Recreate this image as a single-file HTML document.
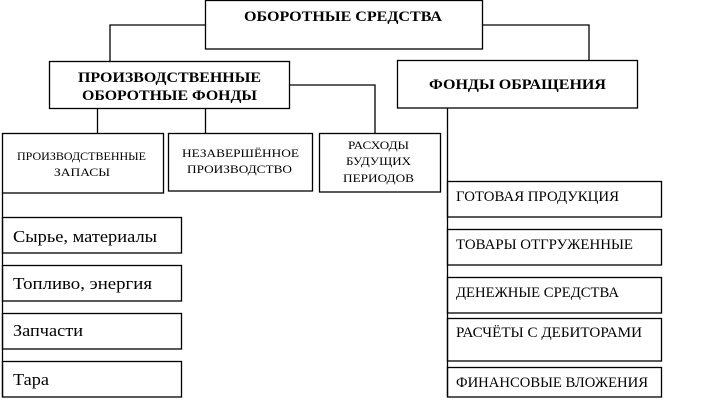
<!DOCTYPE html>
<html><head><meta charset="utf-8"><style>
html,body{margin:0;padding:0;background:#fff;width:708px;height:410px;overflow:hidden}
svg{display:block}
text{font-family:"Liberation Serif",serif;fill:#000}
.b{font-weight:bold;font-size:15px}
.s{font-size:11.5px}
.m{font-size:14.5px}
.l{font-size:17px}
</style></head><body>
<svg width="708" height="410" viewBox="0 0 708 410">
<g fill="none" stroke="#000" stroke-width="1.3">
<rect x="205.5" y="0.5" width="277" height="48.5"/>
<polyline points="205,25 110,25 110,61"/>
<polyline points="482,25 589,25 589,60"/>
<rect x="49.5" y="61.5" width="240" height="47"/>
<rect x="397.5" y="60.5" width="240" height="47.5"/>
<line x1="97.5" y1="108" x2="97.5" y2="133"/>
<line x1="205.5" y1="108" x2="205.5" y2="133"/>
<polyline points="289,85 375,85 375,133"/>
<rect x="2.5" y="133.5" width="161" height="59.5"/>
<rect x="168.5" y="133.5" width="144" height="57.5"/>
<rect x="319.5" y="133.5" width="121" height="58.5"/>
<line x1="2.5" y1="193" x2="2.5" y2="397"/>
<rect x="2.5" y="217.5" width="179" height="35.5"/>
<rect x="2.5" y="265.5" width="179" height="35.5"/>
<rect x="2.5" y="313.5" width="179" height="35.5"/>
<rect x="2.5" y="361.5" width="179" height="35.5"/>
<line x1="447.5" y1="108" x2="447.5" y2="397"/>
<rect x="447.5" y="181.5" width="214" height="35.5"/>
<rect x="447.5" y="229.5" width="214" height="35.5"/>
<rect x="447.5" y="277.5" width="214" height="35.5"/>
<rect x="447.5" y="318.5" width="214" height="42.5"/>
<rect x="447.5" y="367.5" width="214" height="29.5"/>
</g>
<g lengthAdjust="spacingAndGlyphs">
<text class="b" x="244" y="21" textLength="198" lengthAdjust="spacingAndGlyphs">ОБОРОТНЫЕ СРЕДСТВА</text>
<text class="b" x="78" y="82" textLength="183" lengthAdjust="spacingAndGlyphs">ПРОИЗВОДСТВЕННЫЕ</text>
<text class="b" x="82" y="100" textLength="175" lengthAdjust="spacingAndGlyphs">ОБОРОТНЫЕ ФОНДЫ</text>
<text class="b" x="429" y="89" textLength="177" lengthAdjust="spacingAndGlyphs">ФОНДЫ ОБРАЩЕНИЯ</text>
<text class="s" x="17" y="160" textLength="129" lengthAdjust="spacingAndGlyphs">ПРОИЗВОДСТВЕННЫЕ</text>
<text class="s" x="54" y="176" textLength="56" lengthAdjust="spacingAndGlyphs">ЗАПАСЫ</text>
<text class="s" x="182" y="157" textLength="117" lengthAdjust="spacingAndGlyphs">НЕЗАВЕРШЁННОЕ</text>
<text class="s" x="187" y="173" textLength="105" lengthAdjust="spacingAndGlyphs">ПРОИЗВОДСТВО</text>
<text class="s" x="348" y="149" textLength="61" lengthAdjust="spacingAndGlyphs">РАСХОДЫ</text>
<text class="s" x="346" y="165" textLength="65" lengthAdjust="spacingAndGlyphs">БУДУЩИХ</text>
<text class="s" x="343" y="182" textLength="71" lengthAdjust="spacingAndGlyphs">ПЕРИОДОВ</text>
<text class="l" x="13" y="242" textLength="144" lengthAdjust="spacingAndGlyphs">Сырье, материалы</text>
<text class="l" x="13" y="289" textLength="139" lengthAdjust="spacingAndGlyphs">Топливо, энергия</text>
<text class="l" x="13" y="336" textLength="70" lengthAdjust="spacingAndGlyphs">Запчасти</text>
<text class="l" x="13" y="385" textLength="36" lengthAdjust="spacingAndGlyphs">Тара</text>
<text class="m" x="456" y="201" textLength="163" lengthAdjust="spacingAndGlyphs">ГОТОВАЯ ПРОДУКЦИЯ</text>
<text class="m" x="456" y="249" textLength="177" lengthAdjust="spacingAndGlyphs">ТОВАРЫ ОТГРУЖЕННЫЕ</text>
<text class="m" x="456" y="297" textLength="163" lengthAdjust="spacingAndGlyphs">ДЕНЕЖНЫЕ СРЕДСТВА</text>
<text class="m" x="456" y="337" textLength="186" lengthAdjust="spacingAndGlyphs">РАСЧЁТЫ С ДЕБИТОРАМИ</text>
<text class="m" x="456" y="387" textLength="192" lengthAdjust="spacingAndGlyphs">ФИНАНСОВЫЕ ВЛОЖЕНИЯ</text>
</g>
</svg>
</body></html>
